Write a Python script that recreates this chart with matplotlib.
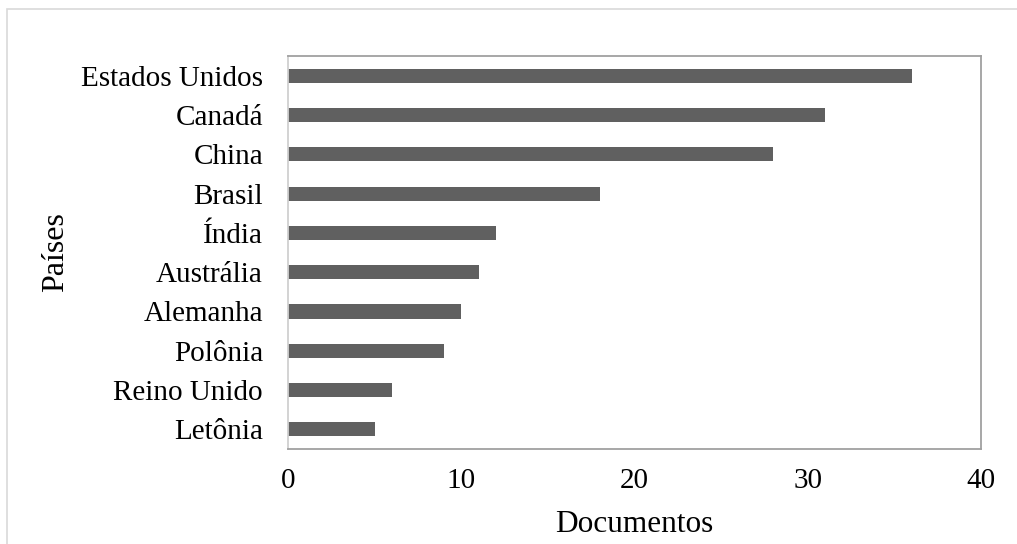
import matplotlib.pyplot as plt
from matplotlib.patches import Rectangle

# Documentos por país
paises = ["Estados Unidos", "Canadá", "China", "Brasil", "Índia",
          "Austrália", "Alemanha", "Polônia", "Reino Unido", "Letônia"]
documentos = [36, 31, 28, 18, 12, 11, 10, 9, 6, 5]
x_ticks = [0, 10, 20, 30, 40]

plt.rcParams['font.family'] = ['Liberation Serif', 'DejaVu Serif']

fig = plt.figure(figsize=(10.17, 5.44), dpi=100)
ax = fig.add_axes([0.2832, 0.1746, 0.6814, 0.7224])

# outer chart border
fig.patches.append(Rectangle((7 / 1017, -0.01), 1.0, 1 - 9 / 544 + 0.01,
                             transform=fig.transFigure, fill=False,
                             edgecolor='#d9d9d9', linewidth=1.2))

pos = list(range(len(paises)))[::-1]
ax.barh(pos, documentos, height=0.36, color='#606060')

ax.set_xlim(0, 40)
ax.set_ylim(-0.5, len(paises) - 0.5)
ax.set_xticks(x_ticks)
ax.set_yticks(pos)
ax.set_yticklabels(paises)
ax.tick_params(axis='both', length=0, labelsize=21, colors='black')
ax.tick_params(axis='x', pad=14)
ax.tick_params(axis='y', pad=18)

for side in ['top', 'right', 'bottom']:
    ax.spines[side].set_color('#a0a0a0')
ax.spines['left'].set_color('#d0d0d0')
for sp in ax.spines.values():
    sp.set_linewidth(1.3)

ax.set_xlabel('Documentos', fontsize=22.5, va='center')
ax.set_ylabel('Países', fontsize=23, va='center')
ax.xaxis.set_label_coords(0.5, -0.192)
ax.yaxis.set_label_coords(-0.335, 0.5)

fig.savefig('out.png', dpi=100)
